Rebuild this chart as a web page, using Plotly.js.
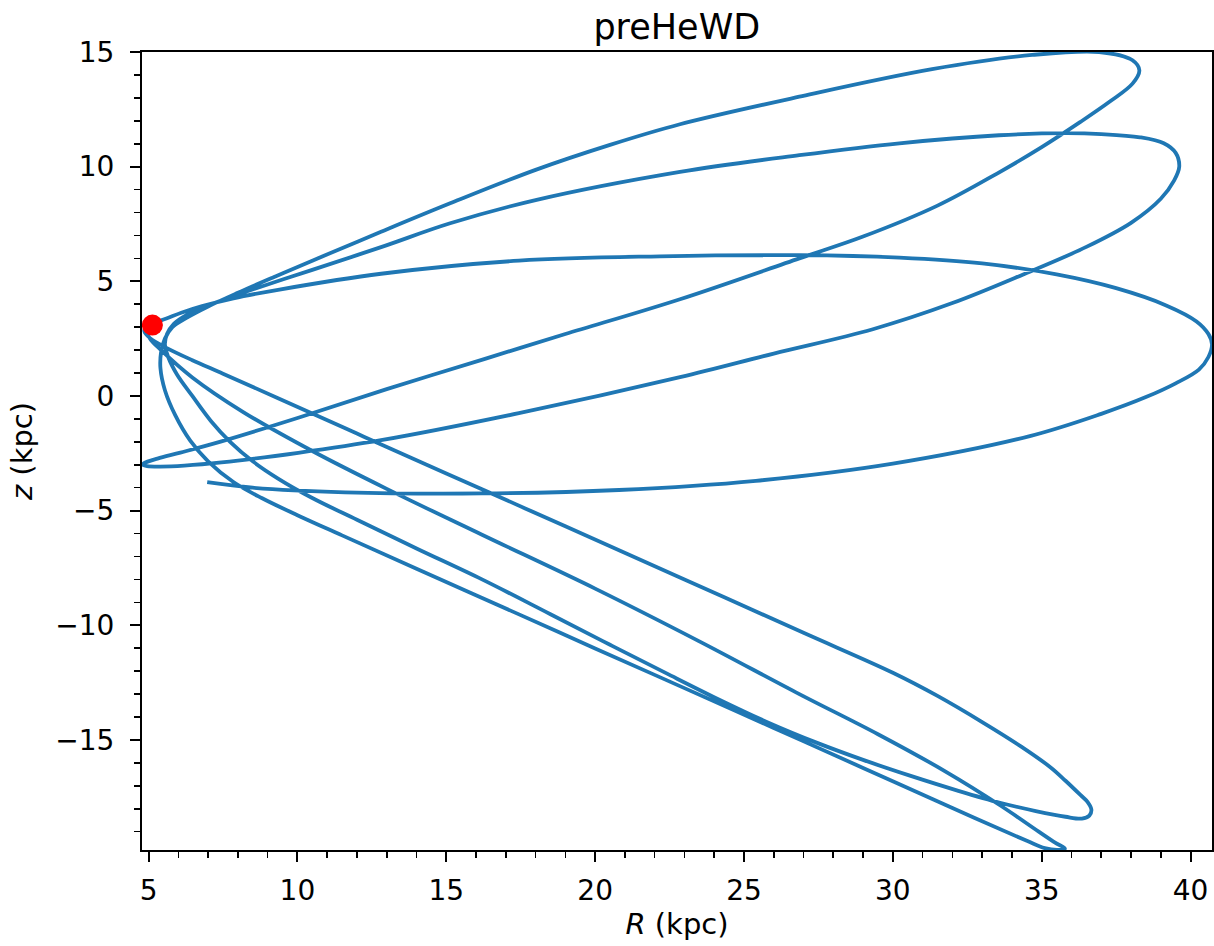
<!DOCTYPE html>
<html>
<head>
<meta charset="utf-8">
<script src="https://cdn.plot.ly/plotly-3.0.1.min.js"></script>
<style>html,body{margin:0;padding:0;background:#fff;}#chart{width:1214px;height:946px;}</style>
</head>
<body>
<div id="chart"></div>
<script>
// Orbit in the meridional plane (R, z) in kpc, in path order.
// Leg A: from the current position down to the lowest apocentre
const legA_R = [5.13, 4.95, 5.05, 5.43, 6.47, 8.18, 10.5, 13.0, 16.2, 20.0, 23.5, 26.86, 29.5, 31.8, 33.6, 34.9, 35.45, 35.78];
const legA_z = [3.09, 2.85, 2.50, 1.99, 0.81, -0.70, -2.40, -4.05, -6.05, -8.40, -10.70, -13.00, -14.75, -16.40, -17.85, -19.00, -19.48, -19.74];

// Leg B: back to pericentre, then out to the highest apocentre
const legB_R = [35.55, 35.1, 34.5, 32.0, 29.0, 26.0, 23.0, 20.0, 17.33, 14.0, 11.5, 10.0, 8.8, 7.85, 7.0, 6.4, 5.9, 5.55, 5.4, 5.42, 5.55, 5.8, 6.2, 7.0, 8.0, 9.2, 10.5, 12.81, 15.13, 18.0, 20.5, 22.85, 26.86, 31.32, 34.68, 36.93, 38.05, 38.28];
const legB_z = [-19.80, -19.72, -19.40, -17.97, -16.22, -14.48, -12.74, -11.01, -9.46, -7.53, -6.08, -5.20, -4.45, -3.75, -2.85, -1.95, -0.85, 0.25, 1.20, 1.90, 2.50, 3.00, 3.35, 3.90, 4.50, 5.18, 5.90, 7.16, 8.40, 9.86, 10.95, 11.85, 13.05, 14.25, 14.87, 15.00, 14.64, 14.20];

// Leg C: down to the low pericentre, then out to the second apocentre
const legC_R = [38.05, 37.3, 36.3, 35.0, 33.5, 31.5, 29.0, 26.86, 22.85, 19.0, 16.3, 13.0, 10.03, 7.45, 6.07, 5.3, 4.85, 4.80, 4.95, 5.4, 6.2, 7.45, 10.03, 12.81, 17.44, 22.85, 26.0, 29.3, 32.0, 34.38, 36.5, 38.0, 39.0, 39.45, 39.62];
const legC_z = [13.62, 12.85, 11.95, 10.85, 9.70, 8.30, 6.95, 6.00, 4.22, 2.70, 1.62, 0.30, -0.95, -1.98, -2.47, -2.73, -2.93, -3.00, -3.06, -3.08, -3.04, -2.90, -2.48, -1.93, -0.75, 0.82, 1.85, 2.90, 4.05, 5.30, 6.50, 7.55, 8.60, 9.40, 10.00];

// Leg D: back to pericentre, then out to the lower-right apocentre
const legD_R = [39.5, 39.1, 38.3, 37.0, 35.82, 33.57, 30.22, 26.86, 22.85, 18.0, 15.13, 12.81, 10.5, 9.2, 8.0, 7.0, 6.3, 5.85, 5.62, 5.55, 5.66, 5.95, 6.47, 7.1, 7.74, 8.5, 9.35, 10.5, 12.0, 14.0, 16.2, 18.5, 20.5, 22.4, 24.1, 25.86, 27.5, 29.0, 30.6, 32.2, 33.6, 34.8, 35.8, 36.35, 36.6, 36.67];
const legD_z = [10.60, 11.02, 11.28, 11.42, 11.46, 11.37, 11.02, 10.50, 9.77, 8.54, 7.53, 6.49, 5.50, 4.95, 4.42, 3.95, 3.55, 3.15, 2.70, 2.25, 1.70, 0.95, 0.00, -1.10, -2.00, -2.85, -3.60, -4.45, -5.40, -6.65, -8.00, -9.52, -10.85, -12.10, -13.20, -14.27, -15.15, -15.87, -16.57, -17.22, -17.74, -18.10, -18.35, -18.43, -18.30, -18.05];

// Leg E: back past the current position, out to the widest apocentre, and in to the end
const legE_R = [36.55, 36.3, 35.8, 35.3, 34.3, 33.0, 31.5, 30.0, 27.0, 23.0, 19.0, 15.0, 12.0, 9.35, 7.5, 6.47, 5.6, 5.05, 4.86, 4.93, 5.2, 5.6, 6.1, 6.8, 7.85, 9.35, 12.81, 17.44, 22.17, 26.86, 30.22, 33.0, 35.5, 37.5, 39.18, 40.2, 40.6, 40.72, 40.6, 40.28, 39.5, 38.5, 37.0, 34.6, 30.0, 25.4, 20.8, 16.2, 11.6, 8.5, 6.97];
const legE_z = [-17.72, -17.40, -16.78, -16.20, -15.28, -14.22, -13.08, -12.07, -10.33, -8.00, -5.68, -3.38, -1.64, -0.10, 0.97, 1.56, 2.10, 2.52, 2.82, 3.07, 3.20, 3.38, 3.63, 3.92, 4.26, 4.63, 5.33, 5.90, 6.09, 6.14, 6.03, 5.78, 5.30, 4.70, 3.95, 3.25, 2.70, 2.25, 1.70, 1.15, 0.55, -0.05, -0.78, -1.75, -2.95, -3.70, -4.10, -4.25, -4.20, -4.00, -3.76];

// Current position
const now_R = [5.13];
const now_z = [3.09];

const xTicks = [5, 10, 15, 20, 25, 30, 35, 40];
const yTicks = [-15, -10, -5, 0, 5, 10, 15];

const orbitR = [].concat(legA_R, legB_R, legC_R, legD_R, legE_R);
const orbitZ = [].concat(legA_z, legB_z, legC_z, legD_z, legE_z);

const FONT = 'DejaVu Sans, Liberation Sans, sans-serif';

const traces = [
  {x: orbitR, y: orbitZ, type: 'scatter', mode: 'lines',
   line: {color: '#1f77b4', width: 3.8, shape: 'spline', smoothing: 1.0},
   hoverinfo: 'skip', showlegend: false},
  {x: now_R, y: now_z, type: 'scatter', mode: 'markers',
   marker: {color: '#ff0000', size: 21}, showlegend: false}
];

const axisCommon = {
  showgrid: false, zeroline: false, showline: true, linecolor: '#000', linewidth: 2,
  mirror: true, ticks: 'outside', ticklen: 10, tickwidth: 2, tickcolor: '#000',
  tickfont: {family: FONT, size: 28, color: '#000'},
  minor: {dtick: 1, ticks: 'outside', ticklen: 6, tickwidth: 1.6, tickcolor: '#000', showgrid: false}
};

const layout = {
  width: 1214, height: 946,
  margin: {l: 142, r: 2, t: 52, b: 96},
  paper_bgcolor: '#fff', plot_bgcolor: '#fff',
  title: {text: 'preHeWD', font: {family: FONT, size: 35, color: '#000'},
          x: 0.5575, xanchor: 'center', y: 0.972, yanchor: 'middle'},
  xaxis: Object.assign({}, axisCommon, {
    range: [4.78, 40.72], tickmode: 'array', tickvals: xTicks, ticktext: xTicks.map(String),
    ticklabelstandoff: 4,
    title: {text: '<i>R</i> (kpc)', font: {family: FONT, size: 29, color: '#000'}, standoff: 8}
  }),
  yaxis: Object.assign({}, axisCommon, {
    range: [-19.8, 15.0], tickmode: 'array', tickvals: yTicks,
    ticktext: yTicks.map(v => v < 0 ? '\u2212' + Math.abs(v) : String(v)),
    ticklabelstandoff: 10,
    title: {text: '<i>z</i> (kpc)', font: {family: FONT, size: 29, color: '#000'}, standoff: 14}
  })
};

Plotly.newPlot('chart', traces, layout, {displayModeBar: false, staticPlot: true});
</script>
</body>
</html>
